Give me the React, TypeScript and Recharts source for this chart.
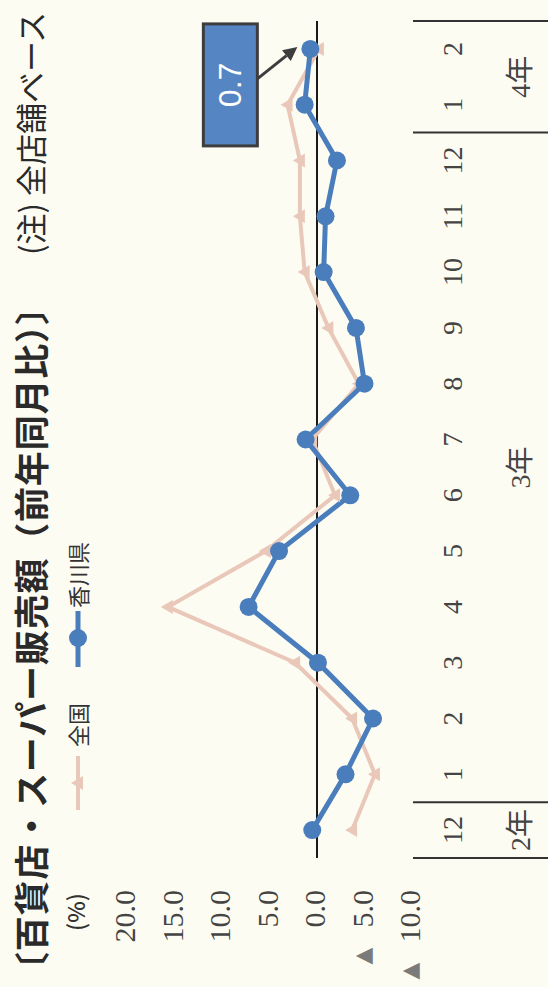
import { LineChart, Line, XAxis, YAxis, ReferenceLine, ReferenceDot } from "recharts";

// 〔百貨店・スーパー販売額（前年同月比）〕 令和2年12月〜4年2月
const periods = ["2-12", "3-1", "3-2", "3-3", "3-4", "3-5", "3-6", "3-7", "3-8", "3-9", "3-10", "3-11", "3-12", "4-1", "4-2"];
const months = ["12", "1", "2", "3", "4", "5", "6", "7", "8", "9", "10", "11", "12", "1", "2"];
const years = ["2年", "3年", "3年", "3年", "3年", "3年", "3年", "3年", "3年", "3年", "3年", "3年", "3年", "4年", "4年"];
const national = [-3.7, -6.1, -3.7, 2.3, 15.7, 5.4, -1.9, 0.5, -4.4, -1.2, 1.3, 1.8, 1.8, 3.1, -0.2];
const kagawa = [0.5, -3.0, -5.9, -0.1, 7.2, 4.0, -3.5, 1.2, -5.0, -4.1, -0.7, -0.9, -2.1, 1.3, 0.7];
const valueTicks = [20, 15, 10, 5, 0, -5, -10];

const data = periods.map((p, i) => ({ period: p, national: national[i], kagawa: kagawa[i] }));

const W = 987;
const H = 548;
const M = { top: 127, right: 21, bottom: 0, left: 0 };
const Y_W = 129;
const X_H = 136;
const BAND = (W - M.left - M.right - Y_W) / periods.length;

const BG = "#fdfcf2";
const BLUE = "#4a7dbb";
const PINK = "#eac8b9";
const TEXT = "#333";
const TICK = "#444";
const SERIF = '"Liberation Serif", "Noto Sans CJK JP", serif';
const SANS = '"Noto Sans CJK JP", "Noto Sans", sans-serif';
const TICK_FS = 30;

// negative values are written with a gray ▲ in front
const ValueTick = ({ x, y, payload }: any) => {
  const v = payload.value as number;
  return (
    <text x={x} y={y} dy={-3} textAnchor="end" dominantBaseline="central" fontSize={TICK_FS} fontFamily={SERIF} fill={TICK}>
      {v < 0 && (
        <tspan fill="#7a7a7a" fontSize={22} fontFamily='"DejaVu Sans", sans-serif'>
          ▲
        </tspan>
      )}
      <tspan dx={v < 0 ? 20 : 0}>{Math.abs(v).toFixed(1)}</tspan>
    </text>
  );
};

const PeriodTick = ({ x, y, payload }: any) => {
  const i = periods.indexOf(payload.value);
  const first = i === 0 || years[i] !== years[i - 1];
  const last = i === periods.length - 1;
  let n = 0;
  if (first) while (i + n < years.length && years[i + n] === years[i]) n++;
  return (
    <g>
      <text x={x} y={y + 40} textAnchor="middle" dominantBaseline="central" fontSize={28} fontFamily={SERIF} fill={TICK}>
        {months[i]}
      </text>
      {first && <line x1={x - BAND / 2} x2={x - BAND / 2} y1={y + 1} y2={y + X_H} stroke="#333" strokeWidth={2} />}
      {last && <line x1={x + BAND / 2} x2={x + BAND / 2} y1={y + 1} y2={y + X_H} stroke="#333" strokeWidth={2} />}
      {first && (
        <text x={x + ((n - 1) * BAND) / 2} y={y + 108} textAnchor="middle" dominantBaseline="central" fontSize={28} fontFamily={SERIF} fill={TICK}>
          {years[i]}
        </text>
      )}
    </g>
  );
};

const TriDot = (props: any) => {
  const { cx, cy, index } = props;
  if (cx == null || cy == null) return <g key={index} />;
  return <path key={index} d={`M${cx},${cy - 7} L${cx + 7},${cy + 5} L${cx - 7},${cy + 5} Z`} fill={PINK} />;
};

const Callout = (props: any) => {
  const { cx, cy } = props;
  if (cx == null || cy == null) return <g />;
  const sx = cx - 30;
  const sy = cy - 53;
  const ex = cx + 2;
  const ey = cy - 13;
  const dx = ex - sx;
  const dy = ey - sy;
  const len = Math.hypot(dx, dy);
  const ux = dx / len;
  const uy = dy / len;
  const hl = 14;
  const hw = 7;
  const bx = ex - ux * hl;
  const by = ey - uy * hl;
  return (
    <g>
      <line x1={sx} y1={sy} x2={bx} y2={by} stroke="#3d3d3d" strokeWidth={3} />
      <path d={`M${ex},${ey} L${bx - uy * hw},${by + ux * hw} L${bx + uy * hw},${by - ux * hw} Z`} fill="#3d3d3d" />
      <rect x={cx - 97} y={cy - 107} width={122} height={54} fill="#5585c2" stroke="#3d3d3d" strokeWidth={3} />
      <text x={cx - 36} y={cy - 80} textAnchor="middle" dominantBaseline="central" fontSize={32} fontFamily='"Liberation Sans", sans-serif' fill="#fff">
        {kagawa[kagawa.length - 1].toFixed(1)}
      </text>
    </g>
  );
};

export default function App() {
  return (
    <div style={{ position: "fixed", left: 0, top: 0, width: 548, height: 987, overflow: "hidden", background: BG }}>
      <div style={{ position: "absolute", left: 0, top: 987, width: W, height: H, transform: "rotate(-90deg)", transformOrigin: "0 0", overflow: "hidden" }}>
        <div style={{ position: "absolute", left: 0, top: 12, fontSize: 35, lineHeight: "36px", letterSpacing: 0.8, fontWeight: 700, fontFamily: SANS, color: "#2a2a2a", whiteSpace: "nowrap" }}>
          〔百貨店・スーパー販売額（前年同月比）〕
        </div>
        <div style={{ position: "absolute", left: 732, top: 12, fontSize: 31, lineHeight: "36px", fontFamily: SANS, color: "#2a2a2a", whiteSpace: "nowrap" }}>
          (注) 全店舗ベース
        </div>
        <div style={{ position: "absolute", left: 56, top: 61, fontSize: 23, lineHeight: "28px", fontWeight: 500, fontFamily: SANS, color: TEXT }}>(%)</div>

        <svg style={{ position: "absolute", left: 177, top: 66 }} width={54} height={24}>
          <line x1={0} y1={12} x2={54} y2={12} stroke={PINK} strokeWidth={4} />
          <path d="M27,5 L34,17 L20,17 Z" fill={PINK} />
        </svg>
        <div style={{ position: "absolute", left: 240, top: 63, fontSize: 22, lineHeight: "28px", fontFamily: SANS, color: TEXT }}>全国</div>
        <svg style={{ position: "absolute", left: 320, top: 66 }} width={56} height={24}>
          <line x1={0} y1={12} x2={56} y2={12} stroke={BLUE} strokeWidth={5} />
          <circle cx={29} cy={12} r={9} fill={BLUE} />
        </svg>
        <div style={{ position: "absolute", left: 379, top: 63, fontSize: 22, lineHeight: "28px", fontFamily: SANS, color: TEXT }}>香川県</div>

        <div style={{ position: "absolute", left: 0, top: 0 }}>
          <LineChart width={W} height={H} data={data} margin={M}>
            <XAxis
              dataKey="period"
              axisLine={false}
              tickLine={false}
              tickSize={0}
              tickMargin={0}
              interval={0}
              height={X_H}
              padding={{ left: BAND / 2, right: BAND / 2 }}
              tick={<PeriodTick />}
            />
            <YAxis
              type="number"
              domain={[-10, 20]}
              ticks={valueTicks}
              axisLine={false}
              tickLine={false}
              tickSize={0}
              tickMargin={32}
              width={Y_W}
              tick={<ValueTick />}
            />
            <ReferenceLine y={0} stroke="#1a1a1a" strokeWidth={2} />
            <Line
              type="linear"
              dataKey="national"
              stroke={PINK}
              strokeWidth={4}
              dot={<TriDot />}
              activeDot={false}
              isAnimationActive={false}
            />
            <Line
              type="linear"
              dataKey="kagawa"
              stroke={BLUE}
              strokeWidth={5}
              dot={{ r: 9, fill: BLUE, stroke: BLUE, strokeWidth: 0 }}
              activeDot={false}
              isAnimationActive={false}
            />
            <ReferenceDot x={periods[periods.length - 1]} y={kagawa[kagawa.length - 1]} r={0} shape={<Callout />} />
          </LineChart>
        </div>
      </div>
    </div>
  );
}
